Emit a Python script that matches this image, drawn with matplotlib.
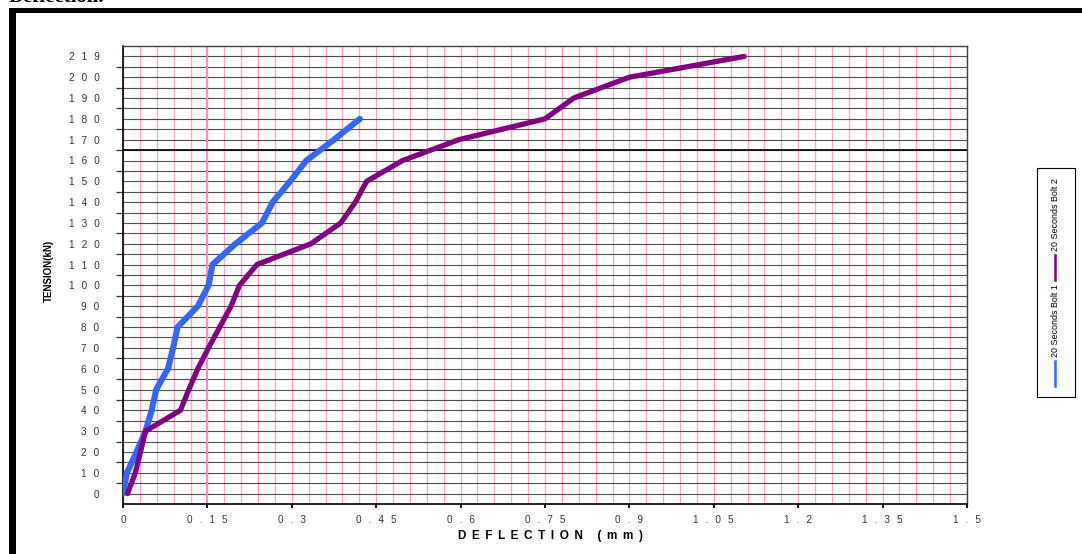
import matplotlib
matplotlib.use('Agg')
import matplotlib.pyplot as plt
from matplotlib.lines import Line2D
from matplotlib.patches import Rectangle
import numpy as np

# ---------------- data ----------------
tension_kN = [0, 10, 20, 30, 40, 50, 60, 70, 80, 90, 100, 110, 120, 130,
              140, 150, 160, 170, 180, 190, 200, 219]
bolt1_deflection = [0.000, 0.007, 0.024, 0.040, 0.051, 0.059, 0.080, 0.089,
                    0.097, 0.133, 0.152, 0.159, 0.200, 0.247, 0.266, 0.297,
                    0.326, 0.375, 0.421]
bolt2_deflection = [0.008, 0.022, 0.031, 0.040, 0.102, 0.117, 0.133, 0.152,
                    0.172, 0.192, 0.207, 0.238, 0.334, 0.387, 0.413, 0.433,
                    0.497, 0.597, 0.750, 0.801, 0.900, 1.104]
x_ticks = [0, 0.15, 0.3, 0.45, 0.6, 0.75, 0.9, 1.05, 1.2, 1.35, 1.5]
x_tick_labels = ['0', '0.15', '0.3', '0.45', '0.6', '0.75', '0.9', '1.05',
                 '1.2', '1.35', '1.5']
series_names = ['20 Seconds Bolt 1', '20 Seconds Bolt 2']
series_colors = ['#3366ff', '#800080']
x_label = 'DEFLECTION (mm)'
y_label = 'TENSION(kN)'
title_fragment = 'Deflection.'

FAM = ['Liberation Sans', 'DejaVu Sans']


def spaced(s, sep):
    return sep.join(list(s))


TICK_SEP = '\u2002\u2009'
LABEL_SEP = ' \u2009'

W, H = 1082, 554
fig = plt.figure(figsize=(W / 100, H / 100), dpi=100)
fig.patch.set_facecolor('white')

ax = fig.add_axes([123 / W, 50 / H, 844 / W, 458 / H])

cat = np.arange(len(tension_kN))
ax.plot(bolt1_deflection, cat[:len(bolt1_deflection)], color=series_colors[0],
        lw=4.4, solid_joinstyle='round', solid_capstyle='round', zorder=4)
ax.plot(bolt2_deflection, cat[:len(bolt2_deflection)], color=series_colors[1],
        lw=3.8, solid_joinstyle='round', solid_capstyle='round', zorder=5)

ax.set_xlim(0, 1.5)
ax.set_ylim(-0.5, len(tension_kN) - 0.5)

# x axis
ax.set_xticks(x_ticks)
ax.set_xticklabels([spaced(t, TICK_SEP) for t in x_tick_labels],
                   family=FAM, fontsize=7.2, color='#333333')
ax.set_xticks(np.arange(1, 50) * 0.03, minor=True)
ax.tick_params(axis='x', which='major', length=3, width=1.3, direction='out',
               color='black', pad=5)
ax.tick_params(axis='x', which='minor', length=0)

# y axis (category style)
ax.set_yticks(cat)
ax.set_yticklabels([spaced(str(t), TICK_SEP) for t in tension_kN],
                   family=FAM, fontsize=7.2, color='#333333')
ax.set_yticks(cat[:-1] + 0.5, minor=True)
ax.tick_params(axis='y', which='major', length=0, pad=17)
ax.tick_params(axis='y', which='minor', length=5, width=0.9, direction='out',
               color='#333333')

ax.set_axisbelow(True)
ax.grid(axis='x', which='both', color='#ffa3cf', lw=1.0)
ax.grid(axis='y', which='both', color='#505050', lw=0.8)
ax.axvline(x_ticks[1], color='#ff8cc4', lw=1.4, zorder=1)
ax.axhline(16.5, color='black', lw=1.2, zorder=2)

for side in ['left', 'bottom']:
    ax.spines[side].set_color('black')
    ax.spines[side].set_linewidth(1.2)
for side in ['top', 'right']:
    ax.spines[side].set_color('#404040')
    ax.spines[side].set_linewidth(1.0)

ax.set_xlabel(spaced(x_label, LABEL_SEP), family=FAM,
              fontsize=8.5, fontweight='bold')
ax.xaxis.set_label_coords((550 - 123) / 844, (504 - 530) / 458)
ax.set_ylabel(y_label, family=FAM, fontsize=7.0, fontweight='bold')
ax.yaxis.set_label_coords((54 - 123) / 844, (504 - 271) / 458)

# ---------------- page frame ----------------
fig.add_artist(Rectangle((9 / W, 0), 7 / W, (H - 8) / H,
                         transform=fig.transFigure, color='black', lw=0))
fig.add_artist(Rectangle((9 / W, 1 - 13 / H), (W - 9) / W, 5 / H,
                         transform=fig.transFigure, color='black', lw=0))
fig.text(104 / W, 1 - 2.5 / H, title_fragment, ha='right', va='baseline',
         fontsize=15, fontweight='bold', family='Liberation Serif')

# ---------------- legend (rotated) ----------------
fig.add_artist(Rectangle((1037 / W, 1 - 397 / H), 38 / W, 229 / H,
                         transform=fig.transFigure, facecolor='white',
                         edgecolor='black', lw=0.8))
leg_x = 1055 / W
entries = [(series_names[0], series_colors[0], 386, 361, 357),
           (series_names[1], series_colors[1], 280, 255, 251)]
for name, col, y0, y1, ty in entries:
    fig.add_artist(Line2D([leg_x, leg_x], [1 - y0 / H, 1 - y1 / H],
                          transform=fig.transFigure, color=col, lw=1.8))
    fig.text(leg_x, 1 - ty / H, name, rotation=90, ha='center', va='bottom',
             fontsize=6.4, family=FAM)

fig.savefig('out.png', dpi=100)
